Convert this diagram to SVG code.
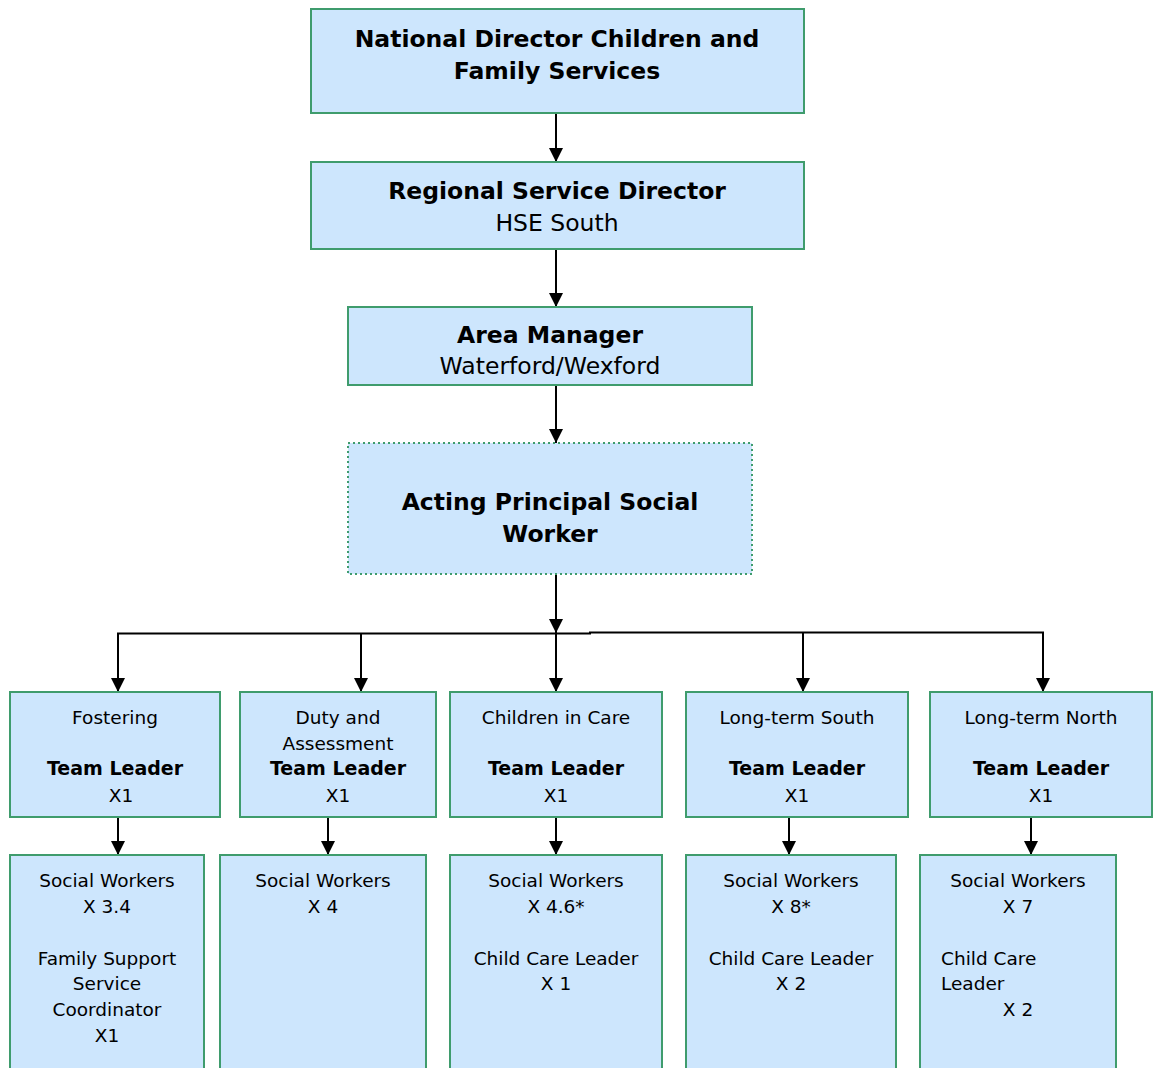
<svg xmlns="http://www.w3.org/2000/svg" width="1154" height="1068" viewBox="0 0 1154 1068">
<defs>
<style>
.box{fill:#cde6fd;stroke:#3f9c6d;stroke-width:2}
.dot{fill:#cde6fd;stroke:#3f9c6d;stroke-width:2;stroke-dasharray:2 3}
.big{font-family:"DejaVu Sans",Verdana,sans-serif;font-size:23.5px;fill:#000;text-anchor:middle}
.sm{font-family:"DejaVu Sans",Verdana,sans-serif;font-size:18.5px;fill:#000;text-anchor:middle}
.smb{font-family:"DejaVu Sans",Verdana,sans-serif;font-size:19px;font-weight:bold;fill:#000;text-anchor:middle}
.b{font-weight:bold}
.ln{stroke:#000;stroke-width:2;fill:none}
.ar{stroke:#000;stroke-width:2;fill:none;marker-end:url(#ah)}
</style>
<marker id="ah" markerWidth="14" markerHeight="14" viewBox="0 0 14 14" refX="14" refY="7" orient="auto" markerUnits="userSpaceOnUse">
<path d="M0,0 L14,7 L0,14 Z" fill="#000"/>
</marker>
</defs>
<g id="connectors">
<line class="ar" x1="556" y1="113" x2="556" y2="162"/>
<line class="ar" x1="556" y1="249" x2="556" y2="307"/>
<line class="ar" x1="556" y1="385" x2="556" y2="443"/>
<line class="ar" x1="556" y1="574" x2="556" y2="633"/>
<line class="ar" x1="556" y1="632" x2="556" y2="692"/>
<path class="ln" d="M117,633.5 H590 V632.5 H1044"/>
<line class="ar" x1="118" y1="633" x2="118" y2="692"/>
<line class="ar" x1="361" y1="633" x2="361" y2="692"/>
<line class="ar" x1="803" y1="632" x2="803" y2="692"/>
<line class="ar" x1="1043" y1="632" x2="1043" y2="692"/>
<line class="ar" x1="118" y1="817" x2="118" y2="855"/>
<line class="ar" x1="328" y1="817" x2="328" y2="855"/>
<line class="ar" x1="556" y1="817" x2="556" y2="855"/>
<line class="ar" x1="789" y1="817" x2="789" y2="855"/>
<line class="ar" x1="1031" y1="817" x2="1031" y2="855"/>
</g>
<g id="national-director">
<rect class="box" x="311" y="9" width="493" height="104"/>
<text class="big b" x="557" y="47">National Director Children and</text>
<text class="big b" x="557" y="79">Family Services</text>
</g>
<g id="regional-director">
<rect class="box" x="311" y="162" width="493" height="87"/>
<text class="big b" x="557" y="199">Regional Service Director</text>
<text class="big" x="557" y="231">HSE South</text>
</g>
<g id="area-manager">
<rect class="box" x="348" y="307" width="404" height="78"/>
<text class="big b" x="550" y="343">Area Manager</text>
<text class="big" x="550" y="374">Waterford/Wexford</text>
</g>
<g id="principal-social-worker">
<rect class="dot" x="348" y="443" width="404" height="131"/>
<text class="big b" x="550" y="510">Acting Principal Social</text>
<text class="big b" x="550" y="542">Worker</text>
</g>
<g id="tl-fostering">
<rect class="box" x="10" y="692" width="210" height="125"/>
<text class="sm" x="115" y="724">Fostering</text>
<text class="smb" x="115" y="775">Team Leader</text>
<text class="sm" x="121" y="802">X1</text>
</g>
<g id="tl-duty">
<rect class="box" x="240" y="692" width="196" height="125"/>
<text class="sm" x="338" y="724">Duty and</text>
<text class="sm" x="338" y="750">Assessment</text>
<text class="smb" x="338" y="775">Team Leader</text>
<text class="sm" x="338" y="802">X1</text>
</g>
<g id="tl-care">
<rect class="box" x="450" y="692" width="212" height="125"/>
<text class="sm" x="556" y="724">Children in Care</text>
<text class="smb" x="556" y="775">Team Leader</text>
<text class="sm" x="556" y="802">X1</text>
</g>
<g id="tl-south">
<rect class="box" x="686" y="692" width="222" height="125"/>
<text class="sm" x="797" y="724">Long-term South</text>
<text class="smb" x="797" y="775">Team Leader</text>
<text class="sm" x="797" y="802">X1</text>
</g>
<g id="tl-north">
<rect class="box" x="930" y="692" width="222" height="125"/>
<text class="sm" x="1041" y="724">Long-term North</text>
<text class="smb" x="1041" y="775">Team Leader</text>
<text class="sm" x="1041" y="802">X1</text>
</g>
<g id="sw-fostering">
<rect class="box" x="10" y="855" width="194" height="220"/>
<text class="sm" x="107" y="887">Social Workers</text>
<text class="sm" x="107" y="913">X 3.4</text>
<text class="sm" x="107" y="965">Family Support</text>
<text class="sm" x="107" y="990">Service</text>
<text class="sm" x="107" y="1016">Coordinator</text>
<text class="sm" x="107" y="1042">X1</text>
</g>
<g id="sw-duty">
<rect class="box" x="220" y="855" width="206" height="220"/>
<text class="sm" x="323" y="887">Social Workers</text>
<text class="sm" x="323" y="913">X 4</text>
</g>
<g id="sw-care">
<rect class="box" x="450" y="855" width="212" height="220"/>
<text class="sm" x="556" y="887">Social Workers</text>
<text class="sm" x="556" y="913">X 4.6*</text>
<text class="sm" x="556" y="965">Child Care Leader</text>
<text class="sm" x="556" y="990">X 1</text>
</g>
<g id="sw-south">
<rect class="box" x="686" y="855" width="210" height="220"/>
<text class="sm" x="791" y="887">Social Workers</text>
<text class="sm" x="791" y="913">X 8*</text>
<text class="sm" x="791" y="965">Child Care Leader</text>
<text class="sm" x="791" y="990">X 2</text>
</g>
<g id="sw-north">
<rect class="box" x="920" y="855" width="196" height="220"/>
<text class="sm" x="1018" y="887">Social Workers</text>
<text class="sm" x="1018" y="913">X 7</text>
<text class="sm" x="941" y="965" style="text-anchor:start">Child Care</text>
<text class="sm" x="941" y="990" style="text-anchor:start">Leader</text>
<text class="sm" x="1018" y="1016">X 2</text>
</g>
</svg>
